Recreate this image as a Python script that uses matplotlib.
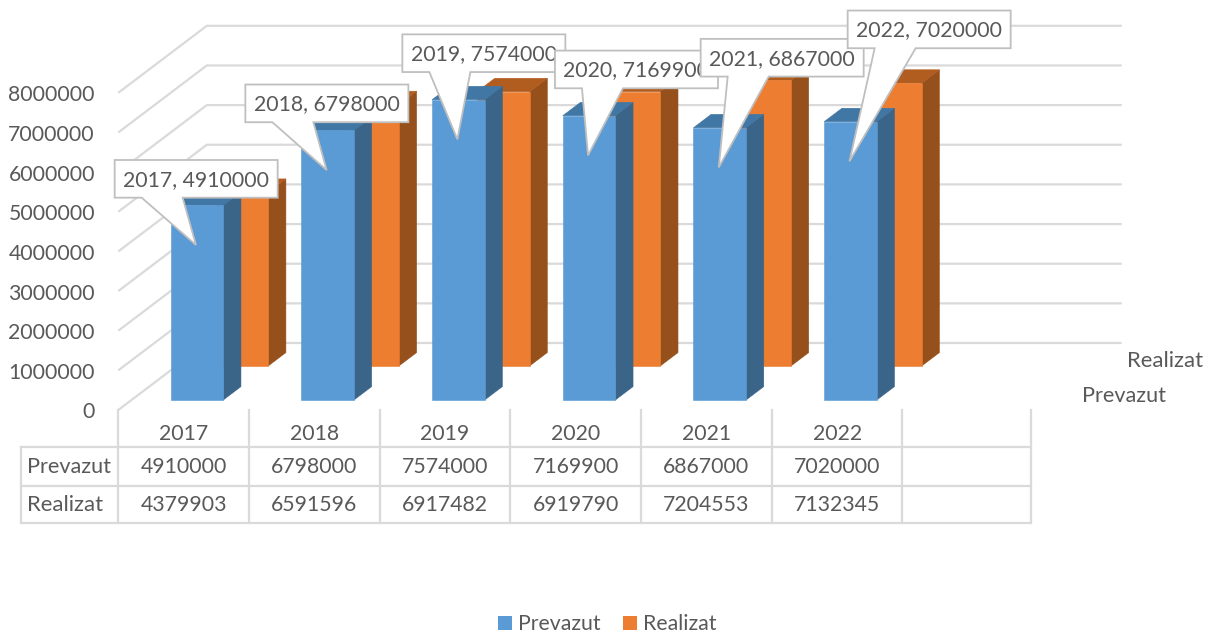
import matplotlib
matplotlib.use("Agg")
import matplotlib.pyplot as plt
from matplotlib.patches import Polygon, Patch
from matplotlib.transforms import Affine2D

years = ["2017", "2018", "2019", "2020", "2021", "2022"]
prevazut = [4910000, 6798000, 7574000, 7169900, 6867000, 7020000]
realizat = [4379903, 6591596, 6917482, 6919790, 7204553, 7132345]
y_ticks = [0, 1000000, 2000000, 3000000, 4000000, 5000000, 6000000, 7000000, 8000000]

plt.rcParams["font.family"] = ["Lato", "DejaVu Sans"]
TEXT = "#595959"
GRID = "#dadada"
FS = 15.3
LW = 1.6

W, H = 1205, 633
PX_X = 130.7            # pixels per category
PX_V = 39.65e-6         # pixels per value unit
X0 = 118.3              # pixel of left edge of the first category
Y0 = 410.0              # pixel of the value 0 at the front of the floor
DEPTH_X = 88.5 / PX_X   # wall depth, in category units
DEPTH_V = 67.0 / PX_V   # wall depth, in value units

fig = plt.figure(figsize=(W / 100, H / 100), dpi=100)
ax = fig.add_axes([0, 0, 1, 1])
ax.set_xlim((0 - X0) / PX_X - 0.5, (W - X0) / PX_X - 0.5)
ax.set_ylim((Y0 - H) / PX_V, Y0 / PX_V)
ax.axis("off")


def proj(x, v, z=0.0):
    return x + z * DEPTH_X, v + z * DEPTH_V


def px_to_data(px, py):
    return (px - X0) / PX_X - 0.5, (Y0 - py) / PX_V


# walls
n = len(years)
x_end = n + 0.5
for t in y_ticks:
    pts = [proj(-0.5, t, 0), proj(-0.5, t, 1), proj(x_end, t, 1)]
    ax.plot(*zip(*pts), color=GRID, lw=LW, zorder=1, solid_capstyle="butt")
    ax.text(*px_to_data(95, Y0 + 2.5 - t * PX_V), str(t), ha="right", va="center",
            fontsize=FS, color=TEXT)


# 3D bars
BAR_L = 0.3
BAR_W = 0.402
BAR_D = 0.2


def bar(i, value, z, front, top, side, zo):
    x0, x1 = i - 0.5 + BAR_L, i - 0.5 + BAR_L + BAR_W
    z1 = z + BAR_D
    ax.add_patch(Polygon([proj(x1, 0, z), proj(x1, 0, z1), proj(x1, value, z1), proj(x1, value, z)],
                         fc=side, ec=side, lw=0.4, zorder=zo))
    ax.add_patch(Polygon([proj(x0, value, z), proj(x1, value, z), proj(x1, value, z1), proj(x0, value, z1)],
                         fc=top, ec=top, lw=0.4, zorder=zo))
    ax.add_patch(Polygon([proj(x0, 0, z), proj(x1, 0, z), proj(x1, value, z), proj(x0, value, z)],
                         fc=front, ec=front, lw=0.4, zorder=zo))


Z_P, Z_R = 0.149, 0.657
for i in range(n):
    bar(i, realizat[i], Z_R, "#ED7D31", "#B25D20", "#96501C", 2 + i * 0.1)
    bar(i, prevazut[i], Z_P, "#5B9BD5", "#4177A5", "#3A6488", 2.05 + i * 0.1)

# depth axis labels
ax.text(*px_to_data(1203, 361), "Realizat", ha="right", va="center", fontsize=FS + 0.6, color=TEXT)
ax.text(*px_to_data(1166, 396), "Prevazut", ha="right", va="center", fontsize=FS + 0.3, color=TEXT)

# data table
ROW_TOP, ROW_1, ROW_2 = 447.3, 485.7, 523.3
TL = 21.3
T_END = x_end - 2 / PX_X
col_edges = [i - 0.5 for i in range(n + 1)] + [T_END]
for xd in col_edges:
    ax.plot([xd, xd], [px_to_data(0, Y0)[1], px_to_data(0, ROW_2)[1]], color=GRID, lw=LW, zorder=1)
ax.plot(*zip(px_to_data(TL, ROW_TOP), px_to_data(TL, ROW_2)), color=GRID, lw=LW, zorder=1)
for row in (ROW_TOP, ROW_1, ROW_2):
    ax.plot(*zip(px_to_data(TL, row), (T_END, px_to_data(0, row)[1])), color=GRID, lw=LW, zorder=1)
for i in range(n):
    ax.text(i, px_to_data(0, 434.5)[1], years[i], ha="center", va="center", fontsize=FS, color=TEXT)
    ax.text(i, px_to_data(0, 467)[1], str(prevazut[i]), ha="center", va="center", fontsize=FS, color=TEXT)
    ax.text(i, px_to_data(0, 505)[1], str(realizat[i]), ha="center", va="center", fontsize=FS, color=TEXT)
ax.text(*px_to_data(27, 467), "Prevazut", ha="left", va="center", fontsize=FS + 0.3, color=TEXT)
ax.text(*px_to_data(27, 505), "Realizat", ha="left", va="center", fontsize=FS + 0.6, color=TEXT)

# callouts: box offset from the pointer tip, in pixels
BOX_W, BOX_H = 163, 37.7
BASE_A, BASE_B = 27, 68
offsets = [(-81.3, -85), (-81.3, -85.6), (-55, -105), (-33.1, -104.8), (-18.1, -128.5), (-1.8, -150.8)]
for i in range(n):
    tip_x = i - 0.5 + BAR_L + BAR_W / 2 - 1.0 / PX_X
    tx, ty = proj(tip_x, prevazut[i] - 1000000, Z_P)
    tip_disp = ax.transData.transform((tx, ty))
    dx, dy = offsets[i]
    shape = [(dx, dy), (dx + BOX_W, dy), (dx + BOX_W, dy + BOX_H), (dx + BASE_B, dy + BOX_H),
             (0, 0), (dx + BASE_A, dy + BOX_H), (dx, dy + BOX_H)]
    tr = Affine2D().scale(1, -1).translate(*tip_disp)
    zo = 5 + i * 0.1
    ax.add_patch(Polygon(shape, closed=True, fc="white", ec="#bfbfbf", lw=1.3, transform=tr,
                         zorder=zo, joinstyle="miter"))
    ax.text(dx + BOX_W / 2, dy + BOX_H / 2 + 1, f"{years[i]}, {prevazut[i]}", transform=tr,
            ha="center", va="center", fontsize=FS, color=TEXT, zorder=zo + 0.01)

# legend
handles = [Patch(fc="#5B9BD5", ec="none", label="Prevazut"), Patch(fc="#ED7D31", ec="none", label="Realizat")]
fig.legend(handles=handles, loc="center", bbox_to_anchor=(607.5 / W, 1 - 624.5 / H), ncol=2, frameon=False,
           fontsize=FS, labelcolor=TEXT, handlelength=0.66, handleheight=0.66, handletextpad=0.28,
           columnspacing=1.05, borderpad=0)

fig.savefig("out.png", dpi=100)
